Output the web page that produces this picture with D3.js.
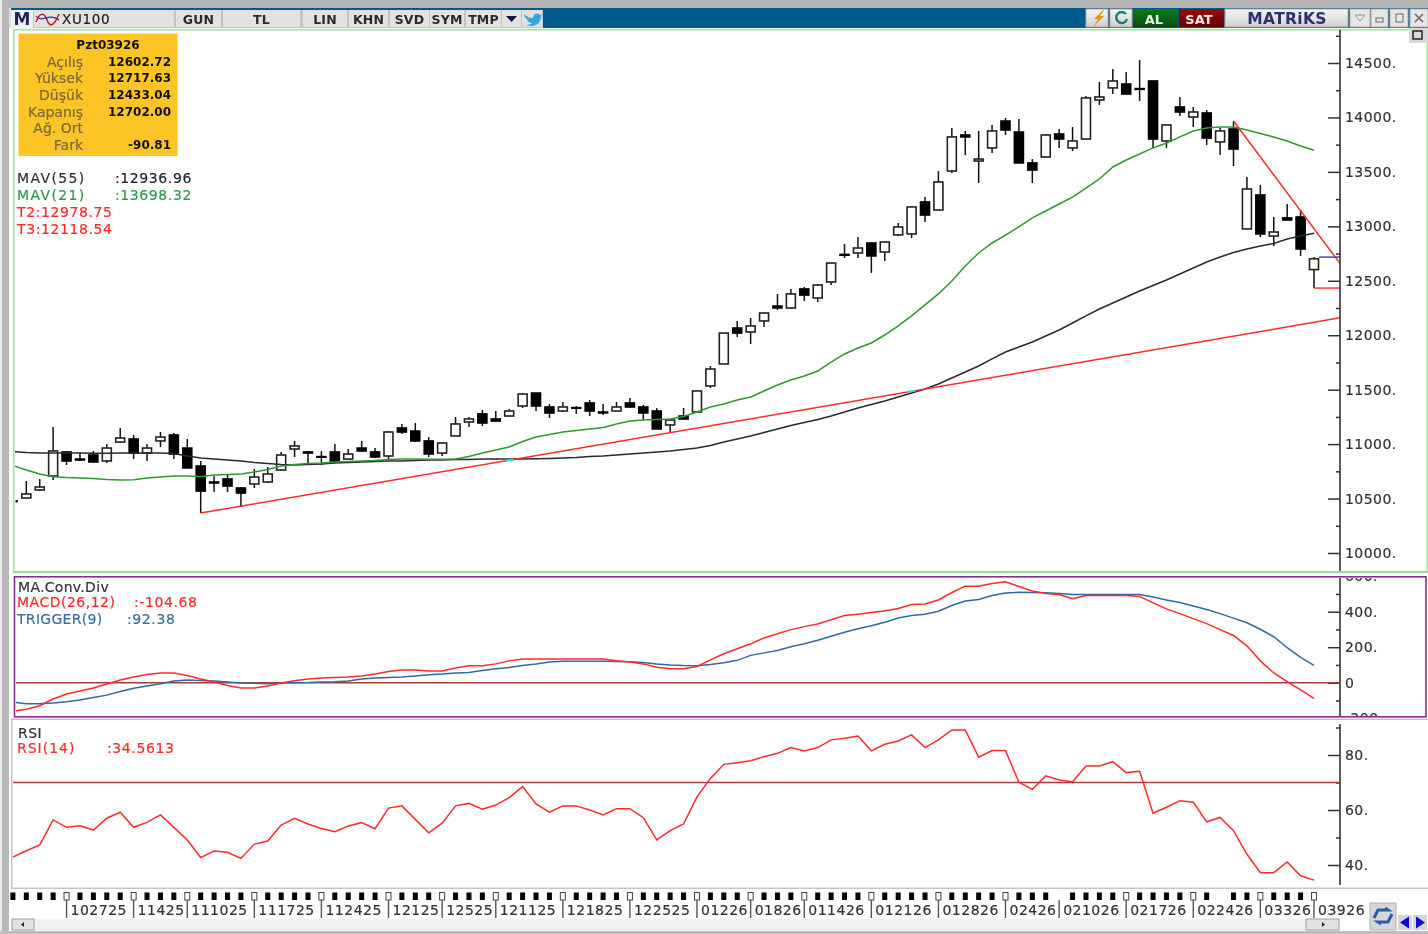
<!DOCTYPE html>
<html>
<head>
<meta charset="utf-8">
<title>XU100</title>
<script src="https://cdn.jsdelivr.net/npm/d3@7"></script>
<style>
  html, body { margin: 0; padding: 0; background: #fff; overflow: hidden; }
  svg { display: block; }
  text { font-family: "DejaVu Sans", sans-serif; }
</style>
</head>
<body>
<div id="chart"></div>
<script>
// candles, index 0..96
const opens = [
  10505,10579,10707,10928,10863,10900,10845,11019,11047,10918,
  11029,11084,10964,10799,10652,10680,10597,10634,10652,10762,
  10955,10928,10885,10928,10863,10964,10928,10891,11148,11120,
  11029,10918,11075,11203,11277,11231,11258,11350,11469,11341,
  11304,11335,11378,11295,11304,11378,11341,11304,11176,11258,
  11295,11534,11736,12066,12030,12131,12268,12250,12425,12342,
  12489,12742,12755,12847,12764,12921,12930,13224,13150,13508,
  13839,13600,13720,13967,13866,13582,13637,13848,13720,13802,
  14160,14271,14307,14265,14335,13784,14096,14004,14041,13775,
  13894,12976,13288,12911,13077,13086,12602.72];
const closes = [
  10542,10606,10937,10845,10854,10836,10964,11056,10918,10964,
  11065,10909,10781,10569,10643,10615,10551,10698,10726,10900,
  10983,10918,10880,10836,10909,10937,10882,11111,11111,11029,
  10909,11010,11185,11231,11194,11212,11304,11460,11350,11286,
  11341,11330,11304,11286,11341,11341,11286,11139,11221,11231,
  11488,11690,12020,12020,12085,12204,12250,12379,12369,12461,
  12663,12735,12801,12728,12856,12994,13178,13104,13407,13821,
  13821,13618,13876,13885,13582,13517,13839,13802,13784,14179,
  14188,14335,14215,14258,13802,13931,14050,14050,13811,13876,
  13710,13343,12930,12948,13058,12792,12702];
const highs = [
  10661,10680,11157,10937,10918,10937,11001,11148,11084,11001,
  11111,11102,11047,10845,10707,10716,10606,10771,10790,10928,
  11029,10937,10937,11001,10955,11029,10964,11120,11185,11194,
  11065,11019,11249,11249,11313,11304,11322,11469,11469,11368,
  11387,11350,11405,11368,11387,11424,11359,11332,11221,11332,
  11488,11717,12020,12131,12158,12204,12379,12425,12443,12470,
  12663,12838,12902,12847,12856,13031,13178,13270,13508,13903,
  13876,13876,13931,13995,13986,13618,13848,13894,13912,14197,
  14326,14445,14417,14528,14335,13931,14188,14096,14068,13903,
  13967,13453,13380,13086,13205,13150,12717.63];
const lows = [
  10505,10569,10670,10808,10845,10827,10827,11010,10863,10845,
  10973,10863,10781,10367,10560,10560,10422,10597,10643,10753,
  10882,10817,10808,10827,10863,10928,10872,10863,11093,11019,
  10882,10891,11075,11157,11166,11203,11258,11332,11304,11240,
  11295,11277,11258,11267,11304,11332,11221,11139,11102,11221,
  11295,11515,11736,11984,11919,12076,12232,12241,12314,12305,
  12461,12709,12709,12572,12682,12911,12893,13040,13150,13490,
  13655,13398,13674,13839,13582,13398,13628,13720,13692,13802,
  14114,14215,14215,14151,13720,13720,14013,13912,13747,13655,
  13554,12976,12902,12820,13058,12728,12433.04];

// indicator series start one bar before the first full candle (index -1)
const mav55 = [
  10932,10923,10918,10918,10918,10918,10915,10915,10918,10918,10918,10918,
  10914,10891,10872,10863,10854,10845,10831,10822,10813,10808,10813,10817,
  10827,10831,10836,10840,10845,10845,10850,10854,10854,10859,10859,10863,
  10863,10863,10863,10865,10868,10872,10877,10886,10891,10900,10909,10918,
  10928,10937,10951,10964,10987,11019,11047,11075,11107,11139,11171,11198,
  11226,11258,11295,11332,11364,11396,11433,11469,11506,11552,11607,11662,
  11717,11782,11846,11892,11938,11993,12048,12112,12177,12241,12296,12351,
  12406,12457,12507,12562,12617,12672,12718,12760,12792,12820,12842,12884,
  12911,12936.96];
const mav21 = [
  10804,10762,10726,10701,10693,10689,10684,10675,10670,10673,10689,10698,
  10707,10707,10703,10716,10721,10726,10744,10767,10799,10813,10822,10827,
  10836,10840,10845,10850,10859,10863,10863,10861,10861,10863,10886,10918,
  10946,10973,11024,11065,11088,11111,11125,11139,11153,11185,11212,11221,
  11226,11231,11254,11295,11341,11369,11405,11433,11488,11543,11589,11626,
  11671,11754,11828,11883,11929,12002,12085,12177,12278,12379,12498,12636,
  12755,12847,12920,12994,13077,13141,13205,13269,13352,13435,13545,13609,
  13664,13720,13765,13821,13876,13903,13912,13912,13885,13853,13821,13784,
  13738,13698.32];
const macd = [
  -160,-149,-130,-92,-64,-47,-30,-7,15,32,46,55,
  55,41,21,4,-16,-30,-30,-19,-2,11,21,27,
  29,32,38,49,63,72,72,66,66,83,95,95,
  106,123,134,134,134,134,134,134,134,124,117,106,
  87,78,78,91,129,163,191,219,252,276,299,316,
  331,355,378,386,395,406,418,440,443,466,508,544,
  544,559,568,542,517,503,497,473,491,491,491,491,
  486,450,416,389,361,333,299,266,208,123,55,6,
  -41,-88];
const trigger = [
  -109,-118,-119,-114,-107,-98,-84,-70,-50,-31,-19,-6,
  10,15,12,10,4,-1,-3,-6,-2,0,1,4,
  5,10,21,27,29,32,38,45,49,55,58,69,
  78,86,97,106,117,121,121,121,121,120,118,114,
  106,100,97,96,103,112,126,154,168,182,202,219,
  239,262,284,304,321,341,364,378,386,403,435,460,
  469,491,505,510,508,507,503,497,497,497,497,497,
  497,483,466,452,432,412,389,364,338,301,259,197,
  143,97];
const rsi = [
  42.9,45.2,47.3,56.4,53.7,54.3,52.7,57,59.2,53.7,55.5,58.2,
  53.7,49.1,42.7,45.1,44.6,42.4,47.6,48.7,54.5,57,54.9,53.3,
  52.1,54.2,55.4,53.2,60.7,61.5,56.6,51.7,55.2,61.5,62.4,60.3,
  61.8,64.5,68.5,62.2,59.2,61.5,61.5,60,58.2,60.5,60.5,57.2,
  49.1,52.5,54.9,64.8,71.5,76.6,77.2,77.9,79.4,80.6,82.7,81.5,
  82.7,85.5,86.1,86.9,81.5,83.9,85.1,87.3,82.7,85.5,89.1,89.1,
  79.2,81.6,81.6,70.1,67.5,72.4,70.9,70.3,76,76,77.6,73.6,
  74.1,58.8,61,63.4,62.8,55.7,57.3,52.5,43.9,37.2,37.2,41.1,
  36.1,34.5];

const priceTicks = [10000,10500,11000,11500,12000,12500,13000,13500,14000,14500];
const priceMinor = [10250,10750,11250,11750,12250,12750,13250,13750,14250,14750];
const macdTicks = [-200,0,200,400,600];
const macdMinor = [-100,100,300,500];
const rsiTicks = [40,60,80];
const rsiMinor = [50,70,90];

const dateIndex = [3,8,12,17,22,27,31,35,40,45,50,54,58,63,68,73,77,82,87,92,96];
const dateLabels = ["102725","11425","111025","111725","112425","12125","12525","121125","121825","122525",
  "01226","01826","011426","012126","012826","02426","021026","021726","022426","03326","03926"];
const skippedMarks = [77, 89];

const infoLabels = ["Açılış","Yüksek","Düşük","Kapanış","Ağ. Ort","Fark"];
const infoValues = ["12602.72","12717.63","12433.04","12702.00","","-90.81"];

const bars = d3.range(0, 97);
const seriesIdx = d3.range(-1, 97);

const width = 1428, height = 934;
const axisX = 1340;

const x = d3.scaleLinear().domain([-1, 96]).range([12.9, 1314]);
const yPrice = d3.scaleLinear().domain([10000, 14500]).range([553, 63]);
const yMacd = d3.scaleLinear().domain([0, 400]).range([682.7, 611.7]);
const yRsi = d3.scaleLinear().domain([40, 80]).range([865, 755]);

const svg = d3.select("#chart").append("svg")
    .attr("width", width)
    .attr("height", height)
    .style("filter", "blur(0.4px)");

const defs = svg.append("defs");
function clip(id, x0, y0, w, h) {
    defs.append("clipPath").attr("id", id).append("rect")
        .attr("x", x0).attr("y", y0).attr("width", w).attr("height", h);
}
clip("clipMain", 15, 31, axisX - 15, 540);
clip("clipMacd", 16, 578, 1409, 138);
clip("clipRsi", 13, 721, axisX - 13, 166);

function grad(id, top, bottom) {
    const g = defs.append("linearGradient").attr("id", id)
        .attr("x1", 0).attr("y1", 0).attr("x2", 0).attr("y2", 1);
    g.append("stop").attr("offset", 0).attr("stop-color", top);
    g.append("stop").attr("offset", 1).attr("stop-color", bottom);
}
grad("gAl", "#0f7a18", "#0a4a10");
grad("gSat", "#9a0a0a", "#5e0606");
grad("gBtn", "#f6f6f6", "#cfcfcf");

function box(g, x0, y0, w, h, fill, stroke) {
    return g.append("rect").attr("x", x0).attr("y", y0).attr("width", w).attr("height", h)
        .attr("fill", fill).attr("stroke", stroke || "none");
}

function label(g, x0, y0, str, color, opt) {
    opt = opt || {};
    return g.append("text")
        .attr("x", x0).attr("y", y0)
        .attr("fill", color)
        .attr("stroke", opt.weight ? "none" : color)
        .attr("stroke-width", 0.2)
        .attr("dominant-baseline", "central")
        .attr("text-anchor", opt.anchor || "start")
        .style("font-size", (opt.size || 14) + "px")
        .style("font-weight", opt.weight || "normal")
        .style("letter-spacing", (opt.spacing || 0) + "px")
        .text(str);
}

// window chrome
const chrome = svg.append("g");
box(chrome, 0, 0, width, 8, "#b4b4b4");
box(chrome, 0, 8, width, 20, "#005a8c");
box(chrome, 2, 0, 7, height, "#b8b8b8");
box(chrome, 0, 0, 2, height, "#e8e8e8");
box(chrome, 9, 8, 2, 20, "#e0e0e0");

const toolButtons = [
    ["", 34, 27], ["GUN", 176, 45], ["TL", 223, 77], ["LIN", 303, 44], ["KHN", 349, 39],
    ["SVD", 390, 39], ["SYM", 430, 34], ["TMP", 466, 35], ["", 502, 19], ["", 522, 20]
];
box(chrome, 11, 10, 532, 18, "#c4c4c4");
box(chrome, 11, 10, 22, 18, "#f0f0f0");
label(chrome, 22, 19, "M", "#23235f", { anchor: "middle", size: 17, weight: "bold" });
box(chrome, 61, 10, 113, 17, "#e2e2e2");
label(chrome, 62, 19, "XU100", "#222", { size: 13.5, spacing: 0.7 });
toolButtons.forEach(function(b) {
    box(chrome, b[1], 10, b[2], 17, "#e2e2e2");
    if (b[0]) label(chrome, b[1] + b[2] / 2, 19, b[0], "#2a2a2a", { anchor: "middle", size: 12.5, weight: "bold", spacing: 0.2 });
});
// small chart icon, drop arrow, bird
chrome.append("path").attr("d", "M36 22 C40 12 44 12 47 20 S54 26 59 14").attr("fill", "none").attr("stroke", "#c0202a").attr("stroke-width", 1.6);
chrome.append("path").attr("d", "M36 16 C42 24 48 12 59 20").attr("fill", "none").attr("stroke", "#30309a").attr("stroke-width", 1.2);
chrome.append("path").attr("d", "M506 16 h11 l-5.5 6 z").attr("fill", "#12124a");
chrome.append("path").attr("d", "M524 14 c3 3 6 4 9 4 c0-4 4-6 7-3 l2-1 l-1 3 c0 7-7 11-15 8 c3 0 5-1 6-2 c-3 0-5-2-5-4 c-2-1-3-3-3-5 z").attr("fill", "#3aa5dc");

box(chrome, 1086, 9, 22, 18, "url(#gBtn)", "#aaa");
chrome.append("path").attr("d", "M1103 10 l-9 9 h4 l-4 7 l10 -10 h-4 l4 -6 z").attr("fill", "#e8940a");
box(chrome, 1110, 9, 22, 18, "url(#gBtn)", "#aaa");
chrome.append("path").attr("d", "M1126 14 a5.5 5.5 0 1 0 1 5").attr("fill", "none").attr("stroke", "#17806a").attr("stroke-width", 2.4);
box(chrome, 1133, 9, 45, 18, "url(#gAl)");
label(chrome, 1154, 19, "AL", "#e8ffe8", { anchor: "middle", size: 13, weight: "bold" });
box(chrome, 1179, 9, 45, 18, "url(#gSat)");
label(chrome, 1199, 19, "SAT", "#ffe8e8", { anchor: "middle", size: 13, weight: "bold" });
box(chrome, 1225, 9, 123, 18, "url(#gBtn)", "#aaa");
label(chrome, 1287, 19, "MATRiKS", "#2e2e72", { anchor: "middle", size: 15.5, weight: "bold", spacing: 0.3 });
[[1350, 20], [1371, 17], [1390, 18], [1410, 18]].forEach(function(b) {
    box(chrome, b[0], 9, b[1], 18, "#e6e6e6", "#b0b0b0");
});
chrome.append("path").attr("d", "M1355 15 h10 l-5 6 z").attr("fill", "none").attr("stroke", "#999");
box(chrome, 1376, 18, 7, 4, "none", "#666");
box(chrome, 1396, 14, 7, 8, "none", "#666");
chrome.append("path").attr("d", "M1415 14 l8 8 M1423 14 l-8 8").attr("stroke", "#666").attr("stroke-width", 1.5);

// panel frames
box(chrome, 13.5, 29, 1413, 1.5, "#8fee8f");
box(chrome, 13, 29, 1.5, 543, "#8fee8f");
box(chrome, 13, 571, 1415, 2, "#8fe08f");
box(chrome, 1426.5, 29, 1.5, 543, "#8fee8f");
box(chrome, 1409, 28, 19, 15, "#d8d8d8");
box(chrome, 1413, 31, 9, 8, "none", "#222").attr("stroke-width", 1.5);
chrome.append("rect").attr("x", 14.5).attr("y", 576.8).attr("width", 1411.5).attr("height", 140)
    .attr("fill", "none").attr("stroke", "#8e2a96").attr("stroke-width", 1.6);
box(chrome, 11, 718.5, 1417, 1.5, "#c4c4c4");
box(chrome, 11, 720, 1.5, 168, "#c4c4c4");
box(chrome, 11, 887.5, 1417, 1.5, "#c4c4c4");

// price panel
function drawCandles(g) {
    const candle = g.selectAll("g.candle").data(bars).enter().append("g").attr("class", "candle");
    candle.append("line")
        .attr("x1", function(i) { return x(i); })
        .attr("x2", function(i) { return x(i); })
        .attr("y1", function(i) { return yPrice(highs[i]); })
        .attr("y2", function(i) { return yPrice(lows[i]); })
        .attr("stroke", "#111")
        .attr("stroke-width", 1.5);
    candle.append("rect")
        .attr("x", function(i) { return x(i) - 4.5; })
        .attr("width", 9)
        .attr("y", function(i) { return yPrice(Math.max(opens[i], closes[i])); })
        .attr("height", function(i) { return Math.abs(yPrice(opens[i]) - yPrice(closes[i])); })
        .attr("fill", function(i) { return closes[i] >= opens[i] ? "#fff" : "#000"; })
        .attr("stroke", function(i) { return closes[i] >= opens[i] ? "#222" : "#000"; })
        .attr("stroke-width", 1.6);
}

function drawSeries(g, values, scale, color) {
    const line = d3.line()
        .x(function(d, k) { return x(seriesIdx[k]); })
        .y(function(d) { return scale(d); });
    g.append("path").datum(values)
        .attr("d", line)
        .attr("fill", "none")
        .attr("stroke", color)
        .attr("stroke-width", 1.5);
}

const main = svg.append("g").attr("clip-path", "url(#clipMain)");
drawCandles(main);
main.append("circle").attr("cx", 16.7).attr("cy", yPrice(10475)).attr("r", 1.3).attr("fill", "#111");
drawSeries(main, mav55, yPrice, "#2a2a2a");
drawSeries(main, mav21, yPrice, "#2c9a2c");

// trend lines and the level stubs of the last bar
const t3 = d3.scaleLinear().domain([13, 96]).range([10367, 12118.54]);
const t2 = d3.scaleLinear().domain([90, 96]).range([13967, 12978.75]);
const xEdge = x.invert(axisX);
[[t3, 13], [t2, 90]].forEach(function(t) {
    main.append("line")
        .attr("x1", x(t[1])).attr("y1", yPrice(t[0](t[1])))
        .attr("x2", axisX).attr("y2", yPrice(t[0](xEdge)))
        .attr("stroke", "#ff2a2a").attr("stroke-width", 1.5);
});
[36, 66].forEach(function(i) {
    main.append("line")
        .attr("x1", x(i) - 4).attr("x2", x(i) + 4)
        .attr("y1", yPrice(t3(i - 0.3))).attr("y2", yPrice(t3(i + 0.3)))
        .attr("stroke", "#20e0f0").attr("stroke-width", 1.8);
});
main.append("line").attr("x1", x(96) + 5).attr("x2", axisX)
    .attr("y1", yPrice(highs[96])).attr("y2", yPrice(highs[96]))
    .attr("stroke", "#3c3c9c").attr("stroke-width", 1.4);
main.append("line").attr("x1", x(96)).attr("x2", axisX)
    .attr("y1", yPrice(lows[96])).attr("y2", yPrice(lows[96]))
    .attr("stroke", "#ff2a2a").attr("stroke-width", 1.4);

function drawAxis(clipId, scale, major, minor, y0, y1, fmt) {
    const g = svg.append("g").attr("clip-path", "url(#" + clipId + "Axis)");
    const axis = d3.axisRight(scale).tickValues(major).tickSize(-12).tickPadding(5).tickFormat(fmt);
    const sub = d3.axisRight(scale).tickValues(minor).tickSize(-4).tickFormat("");
    const a = g.append("g").attr("transform", "translate(" + axisX + ",0)").call(axis);
    const b = g.append("g").attr("transform", "translate(" + axisX + ",0)").call(sub);
    a.select(".domain").remove();
    b.select(".domain").remove();
    a.selectAll("line").attr("stroke", "#333").attr("stroke-width", 1.5);
    b.selectAll("line").attr("stroke", "#333").attr("stroke-width", 1.5);
    a.selectAll("text")
        .attr("fill", "#333")
        .attr("stroke", "#333")
        .attr("stroke-width", 0.2)
        .style("font-size", "14px")
        .style("letter-spacing", "0.45px")
        .style("font-family", '"DejaVu Sans", sans-serif');
    g.append("line").attr("x1", axisX).attr("x2", axisX).attr("y1", y0).attr("y2", y1)
        .attr("stroke", "#333").attr("stroke-width", 1.6);
}
clip("clipMainAxis", 1320, 30, 100, 541);
clip("clipMacdAxis", 1320, 578, 100, 138);
clip("clipRsiAxis", 1320, 721, 100, 165);
const dotted = function(d) { return d + "."; };
drawAxis("clipMain", yPrice, priceTicks, priceMinor, 30, 571, dotted);
drawAxis("clipMacd", yMacd, macdTicks, macdMinor, 578, 716, function(d) { return d === 0 ? "0" : d + "."; });
drawAxis("clipRsi", yRsi, rsiTicks, rsiMinor, 724, 885, dotted);

// info box
const info = svg.append("g");
box(info, 18.5, 33.5, 159, 122.5, "#fcc525");
label(info, 108, 45, "Pzt03926", "#111", { anchor: "middle", size: 12, weight: "bold" });
infoLabels.forEach(function(t, k) {
    const yy = 61.8 + k * 16.65;
    label(info, 83, yy, t, "#7a6a38", { anchor: "end", size: 14 });
    label(info, 171, yy, infoValues[k], "#111", { anchor: "end", size: 12, weight: "bold" });
});

label(svg, 17, 178, "MAV(55)", "#333", { spacing: 1.35 });
label(svg, 115, 178, ":12936.96", "#223", { spacing: 0.6 });
label(svg, 17, 195, "MAV(21)", "#2c9a4c", { spacing: 1.35 });
label(svg, 115, 195, ":13698.32", "#2c9a4c", { spacing: 0.6 });
label(svg, 17, 212, "T2:12978.75", "#ff2a2a", { spacing: 0.6 });
label(svg, 17, 228.5, "T3:12118.54", "#ff2a2a", { spacing: 0.6 });

// macd panel
const macdPanel = svg.append("g").attr("clip-path", "url(#clipMacd)");
macdPanel.append("line").attr("x1", 16).attr("x2", axisX).attr("y1", yMacd(0)).attr("y2", yMacd(0))
    .attr("stroke", "#a83c3c").attr("stroke-width", 1.5);
drawSeries(macdPanel, trigger, yMacd, "#2f6aa5");
drawSeries(macdPanel, macd, yMacd, "#ff2a2a");
label(svg, 18, 587, "MA.Conv.Div", "#333", { spacing: 0.3 });
label(svg, 17, 602, "MACD(26,12)", "#ff2a2a", { spacing: 0.5 });
label(svg, 134, 602, ":-104.68", "#ff2a2a", { spacing: 0.6 });
label(svg, 17, 619, "TRIGGER(9)", "#3a6ea5", { spacing: 0.3 });
label(svg, 127, 619, ":92.38", "#3a6ea5", { spacing: 0.6 });

// rsi panel
const rsiPanel = svg.append("g").attr("clip-path", "url(#clipRsi)");
rsiPanel.append("line").attr("x1", 13).attr("x2", axisX).attr("y1", yRsi(70)).attr("y2", yRsi(70))
    .attr("stroke", "#a83c3c").attr("stroke-width", 1.5);
drawSeries(rsiPanel, rsi, yRsi, "#ff2a2a");
label(svg, 18, 733, "RSI", "#333", { spacing: 0.5 });
label(svg, 17, 748, "RSI(14)", "#ff2a2a", { spacing: 1 });
label(svg, 107, 748, ":34.5613", "#ff2a2a", { spacing: 0.6 });

// time axis
const time = svg.append("g");
const marks = seriesIdx.filter(function(i) { return skippedMarks.indexOf(i) < 0; });
time.selectAll("rect.mark").data(marks).enter().append("rect")
    .attr("class", "mark")
    .attr("x", function(i) { return x(i) - 2.5; })
    .attr("y", 892.5)
    .attr("width", 5)
    .attr("height", 7.5)
    .attr("fill", function(i) { return dateIndex.indexOf(i) >= 0 ? "#fff" : "#000"; })
    .attr("stroke", function(i) { return dateIndex.indexOf(i) >= 0 ? "#444" : "none"; });
dateIndex.forEach(function(i, k) {
    time.append("line").attr("x1", x(i)).attr("x2", x(i)).attr("y1", 900).attr("y2", 918)
        .attr("stroke", "#555").attr("stroke-width", 1.4);
    label(time, x(i) + 4, 909.5, dateLabels[k], "#333", { spacing: 0.5 });
});

// scrollbar and navigation
box(chrome, 11, 919, 1329, 12, "#f1f1f1");
box(chrome, 12, 919, 22, 11, "#e2e2e2", "#a0a0a0");
chrome.append("path").attr("d", "M21 924.5 l3 -2.5 v5 z").attr("fill", "#222");
box(chrome, 1306, 919, 33, 11, "#e2e2e2", "#a0a0a0");
chrome.append("path").attr("d", "M1325 924.5 l-3 -2.5 v5 z").attr("fill", "#222");
box(chrome, 1370, 903, 26, 27, "#d6d6d6", "#b0b0b0");
chrome.append("path").attr("d", "M1374 918 l4 -8 h10 l-3 -2 M1392 914 l-4 8 h-10 l3 2").attr("fill", "none").attr("stroke", "#2a5caa").attr("stroke-width", 3);
box(chrome, 1398, 915, 14, 15, "#d6d6d6");
box(chrome, 1413, 915, 14, 15, "#d6d6d6");
chrome.append("path").attr("d", "M1400 922.5 l9 -6 v12 z").attr("fill", "#0a0ad0");
chrome.append("path").attr("d", "M1425 922.5 l-9 -6 v12 z").attr("fill", "#0a0ad0");
box(chrome, 0, 931, width, 3, "#bdbdbd");
</script>
</body>
</html>
